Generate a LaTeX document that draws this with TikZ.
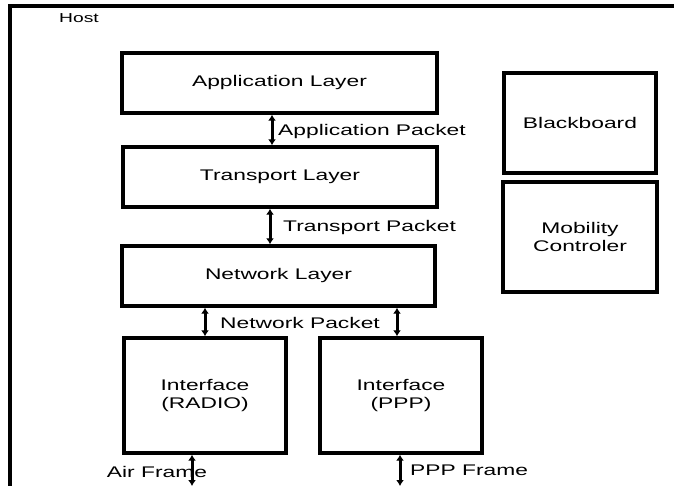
\documentclass[tikz,border=0pt]{standalone}
\usepackage{fontspec}
\setmainfont{Liberation Sans}[FakeStretch=1.48]
\usetikzlibrary{arrows.meta}
\tikzset{
  layerbox/.style={draw, line width=3.4pt, rectangle, inner sep=0pt, align=center},
  dbl/.style={line width=3pt, {Latex[length=6pt,width=8pt]}-{Latex[length=6pt,width=8pt]}},
  lbl/.style={inner sep=0pt, anchor=west},
}
\begin{document}
\begin{tikzpicture}[x=1pt,y=-1pt, font=\fontsize{15.4}{18}\selectfont]
  \useasboundingbox (0,0) rectangle (674,486);
  \clip (0,0) rectangle (674,486);
  \fill[white] (0,0) rectangle (674,486);

  % host frame, running off the page to the right and bottom
  \draw[line width=3.4pt] (10,6) rectangle (700,520);
  \node[inner sep=0pt, font=\fontsize{13}{16}\selectfont] (host) at (79,18) {Host};

  % protocol stack
  \node[layerbox, minimum width=315pt, minimum height=60pt] (app) at (279.5,83) {Application Layer};
  \node[layerbox, minimum width=314pt, minimum height=60pt] (trans) at (280,177) {Transport Layer};
  \node[layerbox, minimum width=313pt, minimum height=60pt] (net) at (278.5,276) {Network Layer};
  \node[layerbox, minimum width=162pt, minimum height=115pt] (radio) at (205,395.5) {Interface\\(RADIO)};
  \node[layerbox, minimum width=162pt, minimum height=115pt] (ppp) at (401,395.5) {Interface\\(PPP)};

  % side modules
  \node[layerbox, minimum width=152pt, minimum height=100pt] (bb) at (580,123) {Blackboard};
  \node[layerbox, minimum width=154pt, minimum height=110pt] (mob) at (580,237) {Mobility\\Controler};

  % free ends of the frame connectors
  \coordinate (airend) at (192,486);
  \coordinate (pppend) at (400,486);

  % packet connectors
  \draw[dbl] ([xshift=-7.5pt]app.south) -- ([xshift=-8pt]trans.north);
  \draw[dbl] ([xshift=-10pt]trans.south) -- ([xshift=-8.5pt]net.north);
  \draw[dbl] (radio.north) -- (radio.north |- net.south);
  \draw[dbl] ([xshift=-4pt]ppp.north) -- ([xshift=-4pt]ppp.north |- net.south);

  \node[lbl] (apppkt) at (278,132) {Application Packet};
  \node[lbl] (transpkt) at (283,228) {Transport Packet};
  \node[inner sep=0pt] (netpkt) at (300,323) {Network Packet};

  % frame labels and connectors
  \node[inner sep=0pt] (airlbl) at (157,472) {Air Frame};
  \node[lbl] (ppplbl) at (410,470) {PPP Frame};
  \draw[dbl] ([xshift=-13pt]radio.south) -- (airend);
  \draw[dbl] ([xshift=-1pt]ppp.south) -- (pppend);
\end{tikzpicture}
\end{document}
